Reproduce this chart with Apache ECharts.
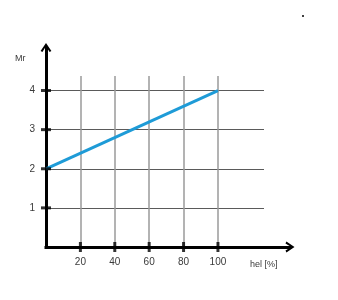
<!DOCTYPE html>
<html>
<head>
<meta charset="utf-8">
<script src="https://cdn.jsdelivr.net/npm/echarts@6/dist/echarts.min.js"></script>
<style>
html,body{margin:0;padding:0;background:#fff;}
#c{width:338px;height:300px;}
</style>
</head>
<body>
<div id="c"></div>
<script>
// ---- data ----
const xTicks = [20, 40, 60, 80, 100];
const yTicks = [1, 2, 3, 4];
const lineX = [0, 100];
const lineY = [2, 4];
const xName = 'hel [%]';
const yName = 'Mr';

const chevron = 'path://M0,9 L6,0 L12,9 L10,10 L6,3.6 L2,10 Z';
const font = 'Liberation Sans';
const labelColor = '#3a3a3a';

const chart = echarts.init(document.getElementById('c'), null, {renderer: 'canvas'});
chart.setOption({
  animation: false,
  backgroundColor: '#fff',
  grid: [
    {left: 46, top: 47.5, width: 244, height: 199.5, outerBoundsMode: 'none', containLabel: false},
    {left: 46, top: 76, width: 172, height: 171, outerBoundsMode: 'none', containLabel: false},
    {left: 46, top: 90.5, width: 218, height: 156.5, outerBoundsMode: 'none', containLabel: false}
  ],
  xAxis: [
    {
      gridIndex: 0, type: 'value', min: 0, max: 141.9, interval: 20, z: 3,
      axisLine: {show: true, symbol: ['none', chevron], symbolSize: [11, 9],
        lineStyle: {color: '#000', width: 3, cap: 'square'}},
      axisTick: {show: false},
      splitLine: {show: false},
      axisLabel: {customValues: xTicks, margin: 10, color: labelColor, fontSize: 10, fontFamily: font}
    },
    {
      gridIndex: 1, type: 'value', min: 0, max: 100, interval: 20, z: 0,
      axisLine: {show: false}, axisTick: {show: false}, axisLabel: {show: false},
      splitLine: {show: true, lineStyle: {color: '#9a9a9a', width: 1.5}}
    },
    {
      gridIndex: 2, type: 'value', min: 0, max: 1, show: false
    }
  ],
  yAxis: [
    {
      gridIndex: 0, type: 'value', min: 0, max: 5.1, interval: 1, z: 3,
      axisLine: {show: true, symbol: ['none', chevron], symbolSize: [11, 9],
        lineStyle: {color: '#000', width: 3, cap: 'square'}},
      axisTick: {show: false},
      splitLine: {show: false},
      axisLabel: {customValues: yTicks, margin: 11, color: labelColor, fontSize: 10, fontFamily: font}
    },
    {
      gridIndex: 1, type: 'value', min: 0, max: 1, show: false
    },
    {
      gridIndex: 2, type: 'value', min: 0, max: 4, interval: 1, z: 0,
      axisLine: {show: false}, axisTick: {show: false}, axisLabel: {show: false},
      splitLine: {show: true, lineStyle: {color: '#5a5a5a', width: 1}}
    }
  ],
  series: [
    {
      type: 'line', xAxisIndex: 0, yAxisIndex: 0, z: 4,
      data: lineX.map((x, i) => [x, lineY[i]]),
      symbol: 'none',
      lineStyle: {color: '#1e9bd7', width: 3}
    },
    {
      type: 'scatter', xAxisIndex: 0, yAxisIndex: 0, z: 5, clip: false,
      data: xTicks.map(v => [v, 0]),
      symbol: 'rect', symbolSize: [3, 10],
      itemStyle: {color: '#000'}
    },
    {
      type: 'scatter', xAxisIndex: 0, yAxisIndex: 0, z: 5, clip: false,
      data: yTicks.map(v => [0, v]),
      symbol: 'rect', symbolSize: [10, 3],
      itemStyle: {color: '#000'}
    }
  ],
  graphic: [
    {type: 'text', left: 15, top: 54, style: {text: yName, fill: labelColor, font: '9px "' + font + '"'}},
    {type: 'text', left: 250, top: 260, style: {text: xName, fill: labelColor, font: '9px "' + font + '"'}},
    {type: 'circle', shape: {cx: 303, cy: 16, r: 1}, style: {fill: '#000'}}
  ]
});
</script>
</body>
</html>
